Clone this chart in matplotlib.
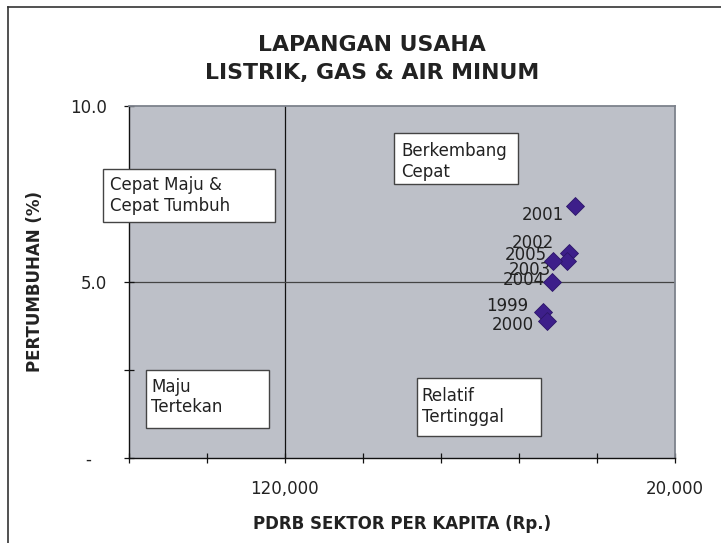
import matplotlib.pyplot as plt
from matplotlib.patches import Rectangle

# data
tahun = ['1999', '2000', '2001', '2002', '2003', '2004', '2005']
pdrb_per_kapita = [53700, 52800, 45600, 47000, 47700, 51600, 51100]
pertumbuhan = [4.16, 3.91, 7.17, 5.84, 5.61, 5.01, 5.61]

# garis rata-rata (pembagi kuadran)
rata_pdrb = 120000
rata_tumbuh = 5.0

x_ticks = [160000, 140000, 120000, 100000, 80000, 60000, 40000, 20000]
x_labeled = [120000, 20000]
y_ticks = [0, 2.5, 5.0, 7.5, 10.0]
y_labels = ['-   ', '', '5.0', '', '10.0']

kuadran = ['Cepat Maju &\nCepat Tumbuh', 'Berkembang\nCepat',
           'Maju\nTertekan', 'Relatif\nTertinggal']

W, H = 721, 543


def fx(px):
    return px / W


def fy(py):
    return 1 - py / H


plt.rcParams['font.family'] = 'DejaVu Sans'
fig = plt.figure(figsize=(W / 100, H / 100), dpi=100)
fig.patch.set_facecolor('white')

ax = fig.add_axes([fx(128.7), fy(458.3), fx(674.8) - fx(128.7), fy(106) - fy(458.3)])
ax.set_facecolor('#bdc0c8')

ax.axvline(rata_pdrb, color='#111111', lw=0.9, zorder=1)
ax.axhline(rata_tumbuh, color='#444444', lw=0.9, zorder=1)

ax.plot(pdrb_per_kapita, pertumbuhan, linestyle='none', marker='D',
        markersize=9.5, color='#3d1f8a', markeredgecolor='#2c1668',
        markeredgewidth=0.6, zorder=4)

# posisi label data (px: kanan-tengah label relatif ke titik)
label_offset = {'1999': (-15, 6), '2000': (-13, -4), '2001': (-11, -9),
                '2002': (-15, 10), '2003': (-16, -9), '2004': (-7, 2),
                '2005': (-7, 6)}
for t, xv, yv in zip(tahun, pdrb_per_kapita, pertumbuhan):
    dx, dy = label_offset[t]
    ax.annotate(t, (xv, yv), xytext=(dx * 0.72, dy * 0.72),
                textcoords='offset points', ha='right', va='center',
                fontsize=12, color='#222222', zorder=3)

ax.set_xlim(x_ticks[0], x_ticks[-1])
ax.set_ylim(0, 10)
ax.set_xticks(x_ticks)
ax.set_xticklabels(['{:,}'.format(v) if v in x_labeled else '' for v in x_ticks])
ax.set_yticks(y_ticks)
ax.set_yticklabels(y_labels)
ax.tick_params(axis='both', direction='inout', length=7, width=0.9,
               labelsize=12, labelcolor='#222222', color='#111111')
ax.tick_params(axis='x', pad=12)
ax.tick_params(axis='y', pad=12)

for s in ['left', 'bottom']:
    ax.spines[s].set_color('#111111')
    ax.spines[s].set_linewidth(1.0)
for s in ['top', 'right']:
    ax.spines[s].set_color('#7d828c')
    ax.spines[s].set_linewidth(1.3)

# judul dan label sumbu
fig.text(fx(372), fy(59), 'LAPANGAN USAHA\nLISTRIK, GAS & AIR MINUM',
         ha='center', va='center', fontsize=15.8, fontweight='bold',
         color='#222222', linespacing=1.45)
fig.text(fx(401.7), fy(524), 'PDRB SEKTOR PER KAPITA (Rp.)', ha='center',
         va='center', fontsize=12, fontweight='bold', color='#222222')
fig.text(fx(35), fy(281), 'PERTUMBUHAN (%)', ha='center', va='center',
         rotation=90, fontsize=12, fontweight='bold', color='#222222')

# kotak kuadran (x0, y0, x1, y1, teks kiri, tengah teks) dalam piksel
kotak = [(103, 169, 275, 222, 110, 195.5),
         (394, 133, 518, 184, 401.5, 161.5),
         (146, 370, 269, 428, 151, 397),
         (417, 378, 541, 436, 421.5, 406.5)]
for teks, (x0, y0, x1, y1, tx, ty) in zip(kuadran, kotak):
    fig.add_artist(Rectangle((fx(x0), fy(y1)), fx(x1) - fx(x0), fy(y0) - fy(y1),
                             transform=fig.transFigure, facecolor='white',
                             edgecolor='#444444', lw=1.0, zorder=5))
    fig.text(fx(tx), fy(ty), teks, ha='left', va='center', fontsize=12,
             color='#222222', zorder=6, linespacing=1.15)

# bingkai luar (kiri dan atas)
fig.add_artist(plt.Line2D([fx(8.3), fx(8.3)], [0, fy(7.3)], color='#333333',
                          lw=1.2, transform=fig.transFigure))
fig.add_artist(plt.Line2D([fx(8.3), 1], [fy(7.3), fy(7.3)], color='#333333',
                          lw=1.2, transform=fig.transFigure))

fig.savefig('out.png', dpi=100)
